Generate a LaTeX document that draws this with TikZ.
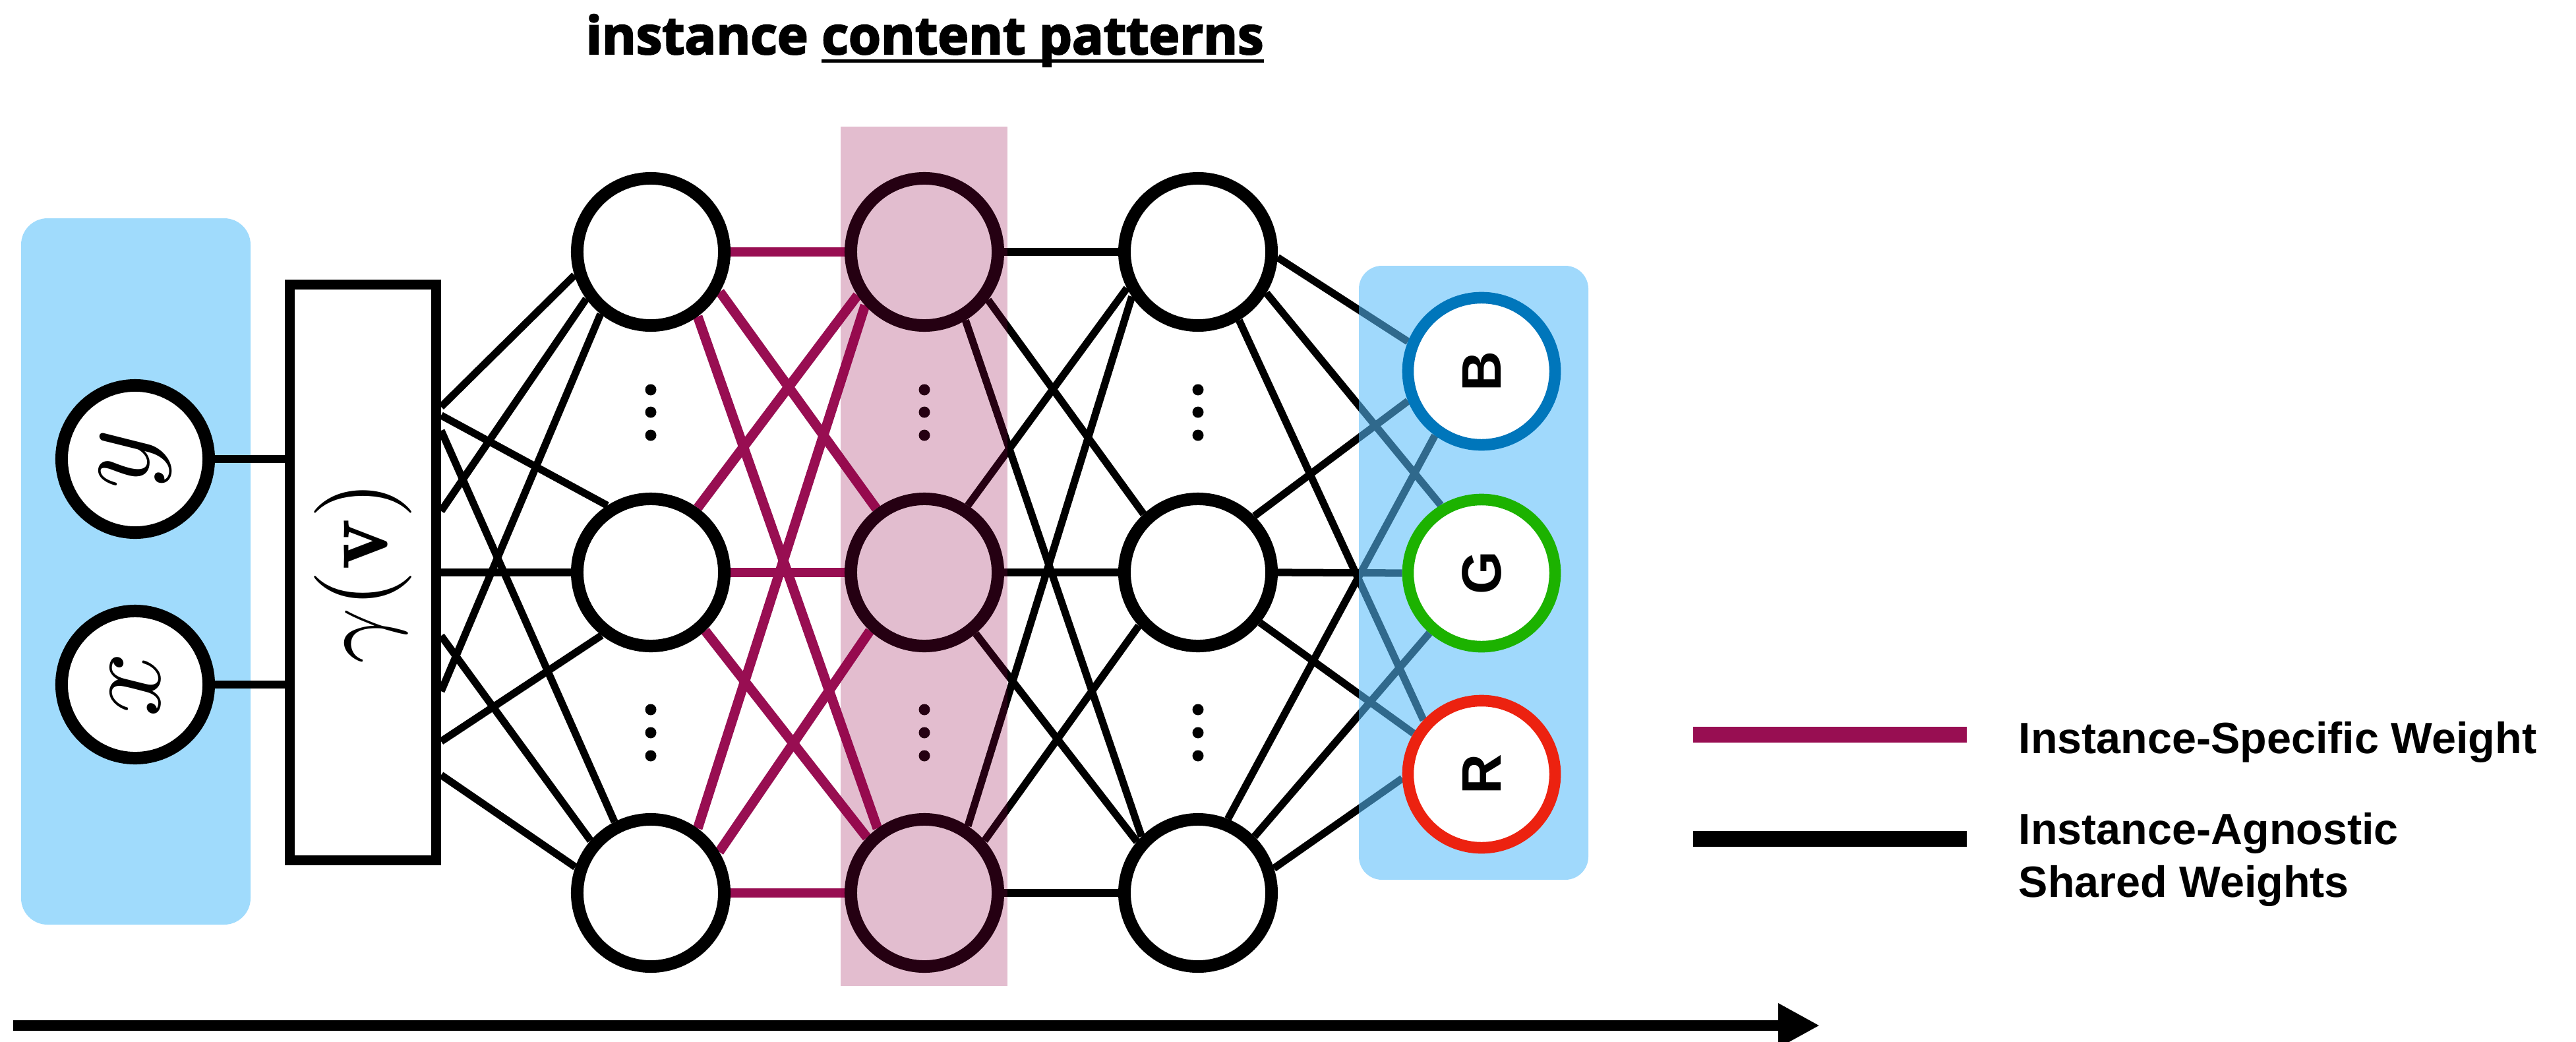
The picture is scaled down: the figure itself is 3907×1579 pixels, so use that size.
\documentclass[tikz,border=0pt]{standalone}
\usepackage{fontspec}
\newfontfamily\titlefont{Open Sans}[BoldFeatures={FakeBold=3}]
\newfontfamily\legendfont{Liberation Sans}
\usetikzlibrary{arrows.meta}

\definecolor{wmag}{RGB}{152,14,82}
\definecolor{skyblue}{RGB}{160,219,252}
\definecolor{skyfill}{RGB}{86,188,250}
\definecolor{bandc}{RGB}{145,0,70}
\definecolor{ringB}{RGB}{0,118,187}
\definecolor{ringG}{RGB}{28,178,0}
\definecolor{ringR}{RGB}{236,34,16}

\pgfdeclarelayer{bg}
\pgfdeclarelayer{edges}
\pgfdeclarelayer{mid}
\pgfdeclarelayer{fg}
\pgfsetlayers{bg,edges,mid,main,fg}

% underline that sits just under the baseline
\newcommand\ulword[1]{\setbox0=\hbox{#1}\rlap{\rule[-0.16em]{\wd0}{0.055em}}\box0}

\begin{document}
\begin{tikzpicture}[x=0.01cm,y=-0.01cm,
  neuron/.style={circle, draw=black, fill=white, line width=5.4pt,
    minimum size=2.23cm, inner sep=0pt},
  outnode/.style={neuron, draw=#1, line width=5pt},
  shared/.style={line width=3.2pt, draw=black},
  specific/.style={line width=4.2pt, draw=wmag},
  legtext/.style={anchor=base west, inner sep=0pt,
    font=\legendfont\bfseries\fontsize{18.9}{22}\selectfont},
  rgbtext/.style={font=\legendfont\bfseries\fontsize{24}{24}\selectfont}]

\useasboundingbox (0,0) rectangle (3907,1579);

% title
\node[anchor=base west, inner sep=0pt] (title) at (888,82)
  {\titlefont\bfseries\fontsize{22.5}{26}\selectfont instance \ulword{content patterns}};

% input coordinates and positional encoding
\node[neuron] (ny) at (205,696) {\rotatebox{90}{\scalebox{4.9}{$y$}}};
\node[neuron] (nx) at (205,1038) {\rotatebox{90}{\scalebox{4.9}{$x$}}};
\node[draw, fill=white, line width=4.27pt, minimum width=2.22cm, minimum height=8.73cm,
  inner sep=0pt] (gam) at (550.5,868)
  {\rotatebox{90}{\scalebox{4.2}{$\gamma(\mathbf{v})$}}};

% hidden layers
\node[neuron] (l1a) at (987,382) {};
\node[neuron] (l1b) at (987,868) {};
\node[neuron] (l1c) at (987,1354) {};
\node[neuron] (l2a) at (1402,382) {};
\node[neuron] (l2b) at (1402,868) {};
\node[neuron] (l2c) at (1402,1354) {};
\node[neuron] (l3a) at (1817,382) {};
\node[neuron] (l3b) at (1817,868) {};
\node[neuron] (l3c) at (1817,1354) {};

% output colour channels
\node[outnode=ringB, rgbtext] (oB) at (2247,563) {\rotatebox{90}{B}};
\node[outnode=ringG, rgbtext] (oG) at (2247,869) {\rotatebox{90}{G}};
\node[outnode=ringR, rgbtext] (oR) at (2247,1174) {\rotatebox{90}{R}};

% vertical ellipses between neurons
\foreach \cx in {987,1402,1817}
  \foreach \cy in {591,625,660,1076,1111,1146}
    \fill (\cx,\cy) circle[radius=0.085cm];

\begin{pgfonlayer}{bg}
  \fill[skyblue, rounded corners=0.4cm] (32,331) rectangle (380,1402);
\end{pgfonlayer}

\begin{pgfonlayer}{edges}
  % inputs into the encoding
  \draw[shared] (ny.east) -- (ny.east -| gam.west);
  \draw[shared] (nx.east) -- (nx.east -| gam.west);
  % encoding to first layer
  \draw[shared] ([yshift=2.51cm]gam.east) -- (l1a.197);
  \draw[shared] ([yshift=2.38cm]gam.east) -- (l1b.123);
  \draw[shared] ([yshift=2.15cm]gam.east) -- (l1c.117.6);
  \draw[shared] ([yshift=0.93cm]gam.east) -- (l1a.216);
  \draw[shared] (gam.east) -- (l1b.180);
  \draw[shared] ([yshift=-0.96cm]gam.east) -- (l1c.139);
  \draw[shared] ([yshift=-1.80cm]gam.east) -- (l1a.231);
  \draw[shared] ([yshift=-2.56cm]gam.east) -- (l1b.232);
  \draw[shared] ([yshift=-3.07cm]gam.east) -- (l1c.161);
  % instance-specific weights
  \draw[specific] (l1a.0) -- (l2a.180);
  \draw[specific] (l1a.330) -- (l2b.127.5);
  \draw[specific] (l1a.306.6) -- (l2c.126.6);
  \draw[specific] (l1b.54.6) -- (l2a.213.6);
  \draw[specific] (l1b.0) -- (l2b.180);
  \draw[specific] (l1b.313) -- (l2c.136.7);
  \draw[specific] (l1c.54.8) -- (l2a.222);
  \draw[specific] (l1c.31.6) -- (l2b.227);
  \draw[specific] (l1c.0) -- (l2c.180);
  % shared weights, second to third layer
  \draw[shared] (l2a.0) -- (l3a.180);
  \draw[shared] (l2a.323.5) -- (l3b.133);
  \draw[shared] (l2a.301) -- (l3c.135);
  \draw[shared] (l2b.57) -- (l3a.207);
  \draw[shared] (l2b.0) -- (l3b.180);
  \draw[shared] (l2b.310) -- (l3c.140);
  \draw[shared] (l2c.57) -- (l3a.214);
  \draw[shared] (l2c.41) -- (l3b.222.6);
  \draw[shared] (l2c.0) -- (l3c.180);
  % shared weights into the outputs
  \draw[shared] (l3a.356) -- (oB.158);
  \draw[shared] (l3a.329) -- (oG.121);
  \draw[shared] (l3a.301) -- (oR.137);
  \draw[shared] (l3b.45) -- (oB.202);
  \draw[shared] (l3b.0) -- (oG.180);
  \draw[shared] (l3b.321) -- (oR.149);
  \draw[shared] (l3c.68) -- (oB.234);
  \draw[shared] (l3c.45) -- (oG.229);
  \draw[shared] (l3c.18) -- (oR.183);
\end{pgfonlayer}

\begin{pgfonlayer}{mid}
  \fill[skyfill, fill opacity=0.56, rounded corners=0.35cm] (2061,403) rectangle (2409,1334);
\end{pgfonlayer}

\begin{pgfonlayer}{fg}
  \fill[bandc, fill opacity=0.26] (1275,192) rectangle (1528,1495);
\end{pgfonlayer}

% legend
\draw[wmag, line width=6.8pt] (2568,1114) -- (2983,1114);
\draw[black, line width=6.6pt] (2568,1272) -- (2983,1272);
\node[legtext] (lg1) at (3061,1142) {Instance-Specific Weight};
\node[legtext] (lg2) at (3061,1280) {Instance-Agnostic};
\node[legtext] (lg3) at (3061,1360) {Shared Weights};

% direction of the forward pass
\coordinate (fstart) at (20,1555);
\coordinate (fend) at (2760,1555);
\draw[line width=4.55pt, -{Triangle[length=0.63cm,width=0.63cm]}] (fstart) -- (fend);

\end{tikzpicture}
\end{document}
